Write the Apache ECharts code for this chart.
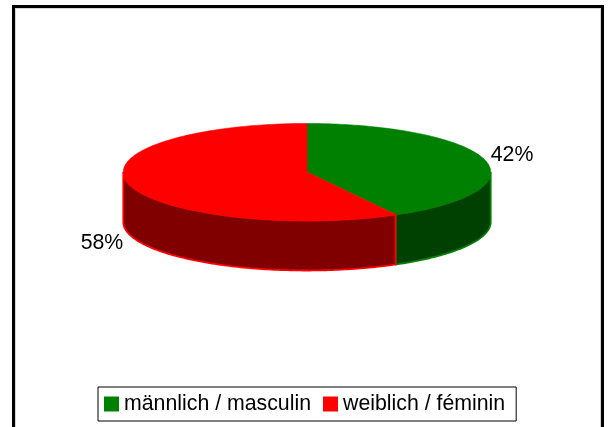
<!DOCTYPE html>
<html>
<head>
<meta charset="utf-8">
<script src="https://cdn.jsdelivr.net/npm/echarts@6/dist/echarts.min.js"></script>
<style>
  html, body { margin: 0; padding: 0; background: #fff; }
  #chart { width: 609px; height: 427px; }
</style>
</head>
<body>
<div id="chart"></div>
<script>
// Gender split, shown as a tilted (pseudo-3D) pie
const categories = ['männlich / masculin', 'weiblich / féminin'];
const shares = [42, 58];

// Palette: face colour and darker rim colour per category
const faceColors = ['#008000', '#FF0000'];
const rimColors = ['#004000', '#800000'];

// Layout of the tilted disc
const disc = { cx: 307, cy: 172, rx: 183.7, ry: 48.5, depth: 50 };
const labelFont = { fontSize: 21.3, fontFamily: '"Liberation Sans", Arial, sans-serif' };

const total = shares.reduce((a, b) => a + b, 0);

// Point on the disc rim; angle measured clockwise from 12 o'clock
function rimPoint(theta, dy) {
  return [disc.cx + disc.rx * Math.sin(theta), disc.cy - disc.ry * Math.cos(theta) + dy];
}

function arcPoints(a0, a1, dy) {
  const pts = [];
  const steps = Math.max(2, Math.ceil((a1 - a0) / (Math.PI / 180)));
  for (let k = 0; k <= steps; k++) {
    pts.push(rimPoint(a0 + (a1 - a0) * k / steps, dy));
  }
  return pts;
}

function makeRenderer(idx) {
  return function (params, api) {
    const value = api.value(0);
    let before = 0;
    for (let i = 0; i < idx; i++) before += shares[i];
    const start = before / total * Math.PI * 2;
    const end = start + value / total * Math.PI * 2;
    const children = [];

    // Visible front rim lies between 3 o'clock and 9 o'clock
    const s0 = Math.max(start, Math.PI / 2);
    const s1 = Math.min(end, Math.PI * 1.5);
    if (s1 > s0) {
      const upper = arcPoints(s0, s1, 0);
      const lower = arcPoints(s0, s1, disc.depth).reverse();
      children.push({
        type: 'polygon',
        shape: { points: upper.concat(lower) },
        style: { fill: rimColors[idx], stroke: faceColors[idx], lineWidth: 1.8 }
      });
    }

    // Top face
    const face = [[disc.cx, disc.cy]].concat(arcPoints(start, end, 0));
    children.push({
      type: 'polygon',
      shape: { points: face },
      style: { fill: faceColors[idx], stroke: faceColors[idx], lineWidth: 0.6 }
    });

    // Percentage label outside the slice
    const mid = (start + end) / 2;
    const front = Math.cos(mid) < 0;
    const anchor = rimPoint(mid, front ? disc.depth : 0);
    const dir = [Math.sin(mid), -Math.cos(mid)];
    children.push({
      type: 'text',
      style: {
        text: Math.round(value / total * 100) + '%',
        x: anchor[0] + dir[0] * 28,
        y: anchor[1] + dir[1] * 28 + 2,
        align: 'center',
        verticalAlign: 'middle',
        fill: '#000',
        fontSize: labelFont.fontSize,
        fontFamily: labelFont.fontFamily
      }
    });

    return { type: 'group', children: children };
  };
}

const chart = echarts.init(document.getElementById('chart'), null, { renderer: 'canvas' });

chart.setOption({
  animation: false,
  backgroundColor: '#fff',
  graphic: [
    {
      type: 'rect',
      shape: { x: 13.5, y: 6.5, width: 589, height: 440 },
      style: { fill: 'none', stroke: '#000', lineWidth: 3 },
      silent: true
    },
    {
      type: 'rect',
      shape: { x: 15.5, y: 8.5, width: 585, height: 440 },
      style: { fill: 'none', stroke: '#d8d8d8', lineWidth: 1 },
      silent: true
    }
  ],
  legend: {
    left: 98,
    top: 387,
    orient: 'horizontal',
    data: categories,
    icon: 'rect',
    itemWidth: 15,
    itemHeight: 15,
    itemGap: 12,
    padding: [6, 11, 6, 6],
    borderColor: '#000',
    borderWidth: 1,
    backgroundColor: '#fff',
    selectedMode: false,
    textStyle: {
      color: '#000',
      fontSize: labelFont.fontSize,
      fontFamily: labelFont.fontFamily,
      lineHeight: 22,
      padding: [0, 0, 0, 0]
    }
  },
  series: categories.map((name, i) => ({
    type: 'custom',
    name: name,
    coordinateSystem: 'none',
    itemStyle: { color: faceColors[i] },
    data: [[shares[i]]],
    renderItem: makeRenderer(i)
  }))
});
</script>
</body>
</html>
